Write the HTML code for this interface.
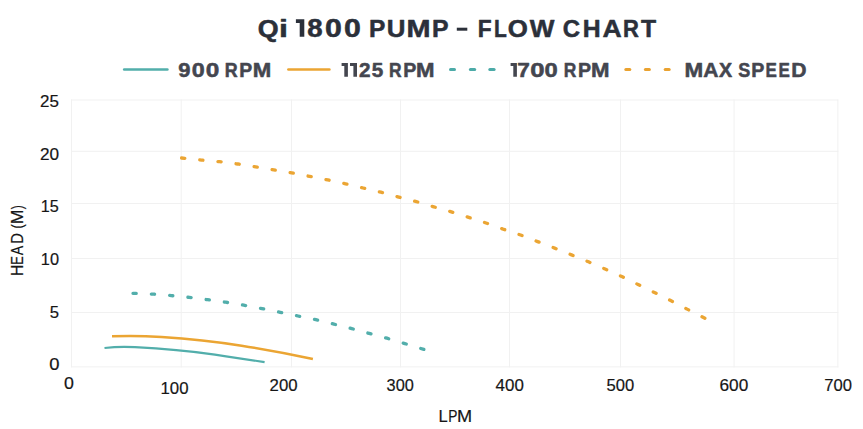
<!DOCTYPE html>
<html>
<head>
<meta charset="utf-8">
<title>Qi 1800 Pump - Flow Chart</title>
<style>
html,body{margin:0;padding:0;background:#ffffff;}
body{width:863px;height:429px;overflow:hidden;font-family:"Liberation Sans",sans-serif;}
svg{display:block;}
text{font-family:"Liberation Sans",sans-serif;}
.ttl{font-weight:bold;fill:#2b303a;stroke:#2b303a;stroke-width:0.5;stroke-linejoin:round;}
.leg{font-weight:bold;fill:#44464f;stroke:#44464f;stroke-width:0.5;stroke-linejoin:round;}
.ax{font-size:17px;fill:#161616;stroke:#161616;stroke-width:0.2;}
.grid line{stroke:#f1f1f1;stroke-width:1;}
</style>
</head>
<body>
<svg width="863" height="429" viewBox="0 0 863 429">
<rect x="0" y="0" width="863" height="429" fill="#ffffff"/>

<!-- grid -->
<g class="grid">
<line x1="71.0" y1="100.0" x2="838.4" y2="100.0"/>
<line x1="71.0" y1="151.3" x2="838.4" y2="151.3"/>
<line x1="71.0" y1="203.5" x2="838.4" y2="203.5"/>
<line x1="71.0" y1="258.5" x2="838.4" y2="258.5"/>
<line x1="71.0" y1="312.5" x2="838.4" y2="312.5"/>
<line x1="71.0" y1="366.9" x2="838.4" y2="366.9"/>
<line x1="71.5" y1="99.5" x2="71.5" y2="367.4"/>
<line x1="181.2" y1="99.5" x2="181.2" y2="367.4"/>
<line x1="291.5" y1="99.5" x2="291.5" y2="367.4"/>
<line x1="400.5" y1="99.5" x2="400.5" y2="367.4"/>
<line x1="509.5" y1="99.5" x2="509.5" y2="367.4"/>
<line x1="620.5" y1="99.5" x2="620.5" y2="367.4"/>
<line x1="734.1" y1="99.5" x2="734.1" y2="367.4"/>
<line x1="837.9" y1="99.5" x2="837.9" y2="367.4"/>
</g>

<!-- title -->
<text class="ttl" font-size="23.7" transform="translate(257.68,36.55) scale(1.1316,1)">Q</text>
<text class="ttl" font-size="23.7" transform="translate(279.09,36.55) scale(1.3593,1)">i</text>
<path fill="#2b303a" d="M295.9,19.2 H304.3 V36.75 H299.70 V22.90 H295.9 Z"/>
<text class="ttl" font-size="25.2" transform="translate(307.30,36.55) scale(1.0974,1)">8</text>
<text class="ttl" font-size="25.2" transform="translate(325.10,36.55) scale(1.2015,1)">0</text>
<text class="ttl" font-size="25.2" transform="translate(344.00,36.55) scale(1.2015,1)">0</text>
<text class="ttl" font-size="23.7" transform="translate(369.12,36.55) scale(1.0351,1)">P</text>
<text class="ttl" font-size="23.7" transform="translate(386.82,36.55) scale(1.0919,1)">U</text>
<text class="ttl" font-size="23.7" transform="translate(406.57,36.55) scale(1.2184,1)">M</text>
<text class="ttl" font-size="23.7" transform="translate(431.90,36.55) scale(1.0494,1)">P</text>
<text class="ttl" font-size="23.7" transform="translate(477.72,36.55) scale(0.9582,1)">F</text>
<text class="ttl" font-size="23.7" transform="translate(494.02,36.55) scale(0.8845,1)">L</text>
<text class="ttl" font-size="23.7" transform="translate(507.71,36.55) scale(1.0903,1)">O</text>
<text class="ttl" font-size="23.7" transform="translate(529.65,36.55) scale(1.1042,1)">W</text>
<text class="ttl" font-size="23.7" transform="translate(562.67,36.55) scale(1.0128,1)">C</text>
<text class="ttl" font-size="23.7" transform="translate(582.70,36.55) scale(1.0462,1)">H</text>
<text class="ttl" font-size="23.7" transform="translate(602.42,36.55) scale(1.1219,1)">A</text>
<text class="ttl" font-size="23.7" transform="translate(623.06,36.55) scale(0.9264,1)">R</text>
<text class="ttl" font-size="23.7" transform="translate(641.08,36.55) scale(1.0445,1)">T</text>
<text class="leg" font-size="19.6" transform="translate(178.32,76.55) scale(1.1207,1)">9</text>
<text class="leg" font-size="19.6" transform="translate(191.67,76.55) scale(1.1913,1)">0</text>
<text class="leg" font-size="19.6" transform="translate(205.85,76.55) scale(1.2422,1)">0</text>
<text class="leg" font-size="19.3" transform="translate(224.74,76.55) scale(0.9254,1)">R</text>
<text class="leg" font-size="19.3" transform="translate(239.25,76.55) scale(1.0068,1)">P</text>
<text class="leg" font-size="19.3" transform="translate(252.70,76.55) scale(1.1504,1)">M</text>
<path fill="#44464f" d="M341.6,63.1 H347.9 V76.85 H344.30 V65.90 H341.6 Z"/>
<path fill="#44464f" d="M350.0,63.1 H357.0 V76.85 H353.40 V65.90 H350.0 Z"/>
<text class="leg" font-size="19.6" transform="translate(359.05,76.55) scale(1.0567,1)">2</text>
<text class="leg" font-size="19.6" transform="translate(371.73,76.55) scale(1.0534,1)">5</text>
<text class="leg" font-size="19.3" transform="translate(388.96,76.55) scale(0.9019,1)">R</text>
<text class="leg" font-size="19.3" transform="translate(403.14,76.55) scale(1.0156,1)">P</text>
<text class="leg" font-size="19.3" transform="translate(416.10,76.55) scale(1.1504,1)">M</text>
<path fill="#44464f" d="M510.6,63.1 H516.9 V76.85 H513.30 V65.90 H510.6 Z"/>
<text class="leg" font-size="19.6" transform="translate(517.22,76.55) scale(1.1550,1)">7</text>
<text class="leg" font-size="19.6" transform="translate(530.21,76.55) scale(1.3134,1)">0</text>
<text class="leg" font-size="19.6" transform="translate(544.56,76.55) scale(1.2116,1)">0</text>
<text class="leg" font-size="19.3" transform="translate(563.86,76.55) scale(0.9019,1)">R</text>
<text class="leg" font-size="19.3" transform="translate(578.04,76.55) scale(1.0156,1)">P</text>
<text class="leg" font-size="19.3" transform="translate(591.00,76.55) scale(1.1504,1)">M</text>
<text class="leg" font-size="19.3" transform="translate(684.49,76.55) scale(1.1647,1)">M</text>
<text class="leg" font-size="19.3" transform="translate(703.15,76.55) scale(1.0931,1)">A</text>
<text class="leg" font-size="19.3" transform="translate(718.88,76.55) scale(1.0204,1)">X</text>
<text class="leg" font-size="19.3" transform="translate(738.21,76.55) scale(0.9367,1)">S</text>
<text class="leg" font-size="19.3" transform="translate(751.14,76.55) scale(1.0156,1)">P</text>
<text class="leg" font-size="19.3" transform="translate(765.48,76.55) scale(0.8828,1)">E</text>
<text class="leg" font-size="19.3" transform="translate(778.58,76.55) scale(0.8828,1)">E</text>
<text class="leg" font-size="19.3" transform="translate(791.16,76.55) scale(1.0943,1)">D</text>
<rect x="456.8" y="27.7" width="10.5" height="3" fill="#2b303a"/>

<!-- legend -->
<g fill="none" stroke-linecap="round">
<line x1="124.2" y1="69.5" x2="167.4" y2="69.5" stroke="#52aeab" stroke-width="2.6"/>
<line x1="288.4" y1="69.5" x2="329.4" y2="69.5" stroke="#eba533" stroke-width="2.6"/>
<g stroke="#4cabA8" stroke-width="3">
<line x1="450.5" y1="69.5" x2="454.5" y2="69.5"/>
<line x1="470.4" y1="69.5" x2="474.7" y2="69.5"/>
<line x1="489.8" y1="69.5" x2="494.1" y2="69.5"/>
</g>
<g stroke="#eaa230" stroke-width="3">
<line x1="625.8" y1="69.5" x2="629.8" y2="69.5"/>
<line x1="645.4" y1="69.5" x2="649.4" y2="69.5"/>
<line x1="665.2" y1="69.5" x2="669.2" y2="69.5"/>
</g>
</g>

<!-- axis labels -->
<text class="ax" transform="translate(40.05,106.7) scale(0.9977,1)">25</text>
<text class="ax" transform="translate(40.03,159.9) scale(1.0121,1)">20</text>
<text class="ax" transform="translate(40.87,211.9) scale(0.9526,1)">15</text>
<text class="ax" transform="translate(40.85,265.0) scale(0.9616,1)">10</text>
<text class="ax" transform="translate(49.63,318.0) scale(0.9801,1)">5</text>
<text class="ax" transform="translate(49.28,369.8) scale(1.0829,1)">0</text>
<text class="ax" transform="translate(63.91,388.7) scale(1.0460,1)">0</text>
<text class="ax" transform="translate(160.52,393.8) scale(0.9885,1)">100</text>
<text class="ax" transform="translate(269.56,390.8) scale(0.9872,1)">200</text>
<text class="ax" transform="translate(386.58,390.8) scale(0.9611,1)">300</text>
<text class="ax" transform="translate(495.61,390.8) scale(0.9960,1)">400</text>
<text class="ax" transform="translate(606.53,390.8) scale(0.9771,1)">500</text>
<text class="ax" transform="translate(719.53,390.8) scale(1.0135,1)">600</text>
<text class="ax" transform="translate(824.25,390.8) scale(0.9766,1)">700</text>
<text class="ax" transform="translate(22.8,276.09) rotate(-90) scale(0.9267,1)">H</text>
<text class="ax" transform="translate(22.8,264.66) rotate(-90) scale(0.7597,1)">E</text>
<text class="ax" transform="translate(22.8,255.33) rotate(-90) scale(0.8339,1)">A</text>
<text class="ax" transform="translate(22.8,243.70) rotate(-90) scale(0.8641,1)">D</text>
<text class="ax" transform="translate(22.8,228.60) rotate(-90) scale(0.7543,1)">(</text>
<text class="ax" transform="translate(22.8,224.25) rotate(-90) scale(1.0376,1)">M</text>
<text class="ax" transform="translate(22.8,209.37) rotate(-90) scale(0.7100,1)">)</text>
<text class="ax" transform="translate(438.59,421.8) scale(0.9739,1)">L</text>
<text class="ax" transform="translate(448.17,421.8) scale(0.8068,1)">P</text>
<text class="ax" transform="translate(456.91,421.8) scale(1.0684,1)">M</text>

<!-- curves -->
<g fill="none" stroke-linejoin="round">
<!-- MAX SPEED -->
<path id="cmax" stroke="#eba533" stroke-width="3.3" stroke-linecap="round" stroke-dasharray="3.2 15.06"
 d="M181.6,158 L201.5,160.1 L219.6,161.7 L237.8,164 L255.7,166.9 L273.8,169.9 L291.7,172.8 L309.5,176.3 L327.7,179.9 L345.5,183.8 L363.1,188 L380.9,192.2 L398.7,197.1 L416.3,201.6 L433.8,206.8 L451.4,211.9 L468.7,217.4 L486,223 L503.3,229.2 L520.6,235 L537.6,241.6 L554.6,248.1 L571.5,254.9 L588.5,261.8 L605.1,269 L621.8,276.5 L638.1,284.5 L654.4,292.5 L670.7,300.6 L687.1,309.1 L705.6,318.7"/>
<!-- 1700 -->
<path id="c1700" stroke="#52aeab" stroke-width="3.3" stroke-linecap="round" stroke-dasharray="3.2 15.165"
 d="M133,293.3 L153,294.1 L171.2,295.6 L189.3,297.4 L207.5,299.7 L225.7,302.2 L243.8,305.2 L262,308.6 L280.2,312.3 L298,316 L315.8,319.7 L333.9,324.1 L351.7,328.6 L369.2,333.4 L387,338.2 L404.8,343.6 L424.5,349.6"/>
<!-- 1125 -->
<path stroke="#eba533" stroke-width="2.6" stroke-linecap="butt"
 d="M112,336.3 C125,335.8 148,336.1 161.6,337 C190,338.8 225,343.1 241.6,345.7 C265,349.4 295,355.1 312.9,359"/>
<!-- 900 -->
<path stroke="#52aeab" stroke-width="2.2" stroke-linecap="butt"
 d="M104.5,348 C115,346.8 128,346.8 135,347.2 C160,348.4 195,351.8 214.9,354.7 C232,357.1 250,359.9 264.6,362.1"/>
</g>
</svg>
</body>
</html>
